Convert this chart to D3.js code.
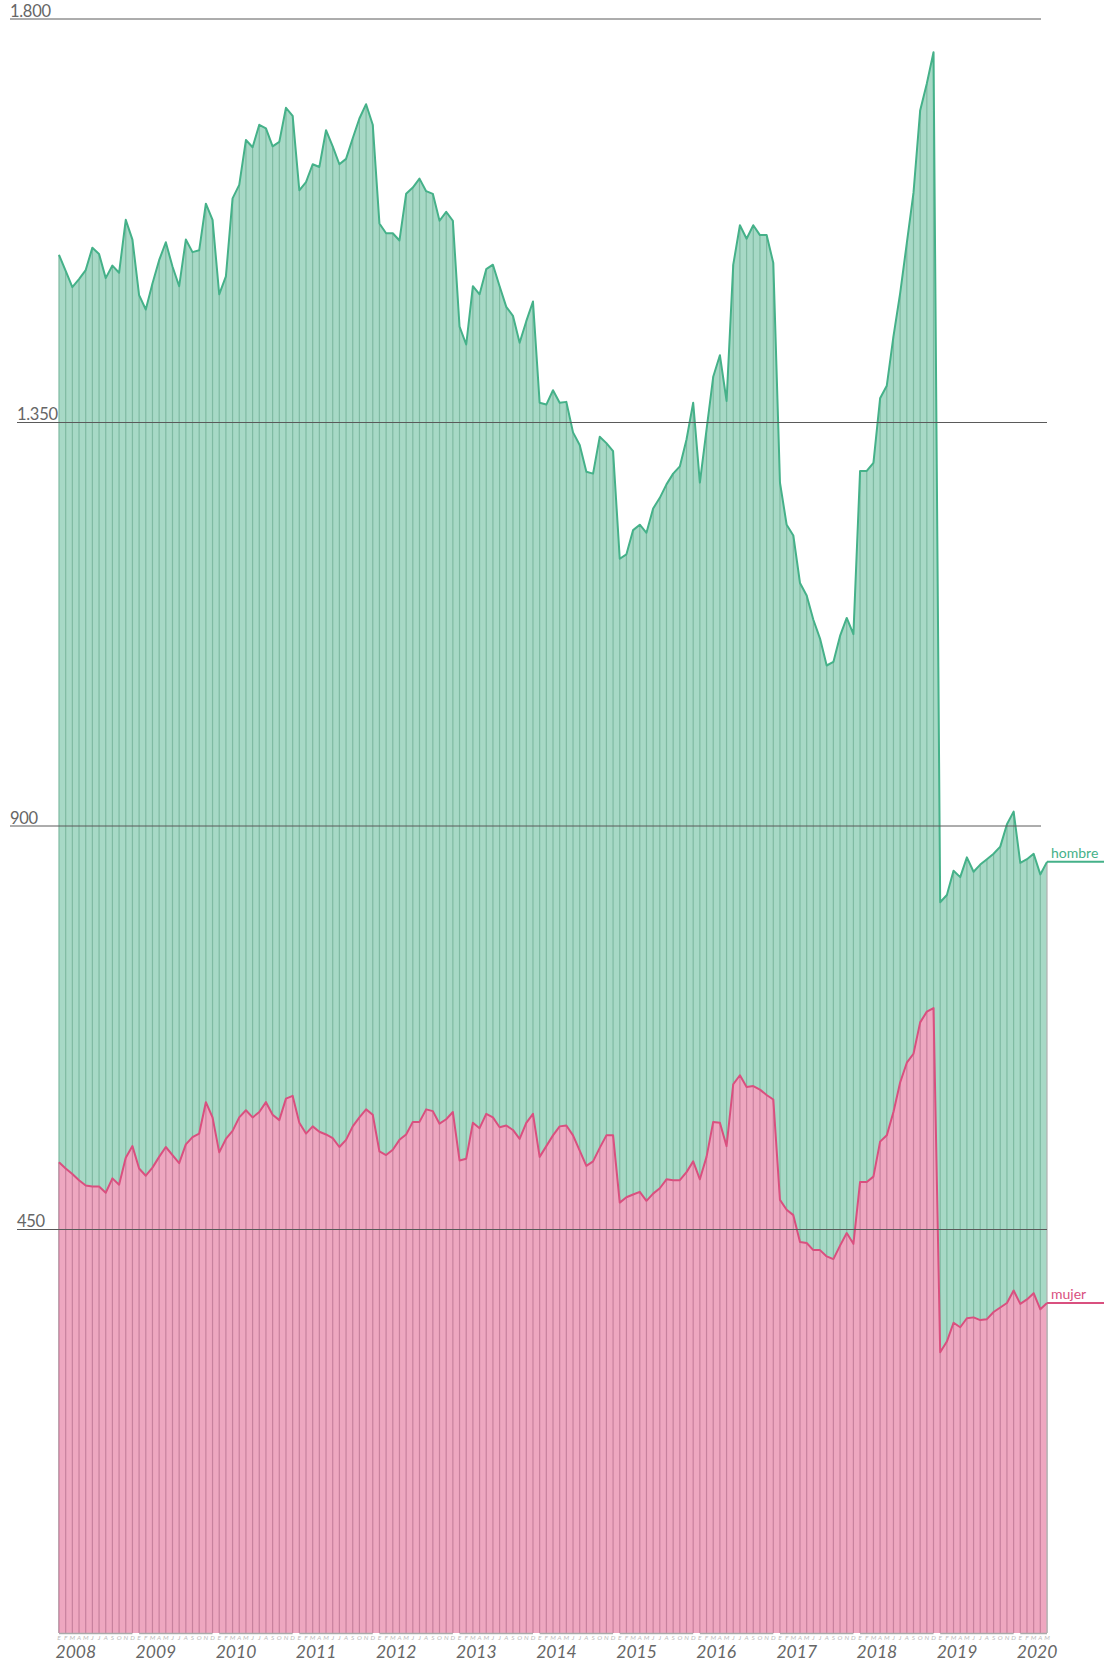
<!DOCTYPE html>
<html><head><meta charset="utf-8">
<script src="https://cdn.jsdelivr.net/npm/d3@7"></script>
<style>body{margin:0;background:#fff}svg{display:block}text{font-family:Lato,"Open Sans",sans-serif}</style>
</head><body>
<svg id="c" width="1104" height="1661"></svg>
<script>
const years = [2008,2009,2010,2011,2012,2013,2014,2015,2016,2017,2018,2019,2020];
const monthLetters = ["E","F","M","A","M","J","J","A","S","O","N","D"];
const yTicks = [1800,1350,900,450];
const yTickLabels = ["1.800","1.350","900","450"];
const hombre = [
1537,1519,1501,1510,1520,1545,1538,1511,1525,1517,1576,1554,
1492,1476,1505,1531,1551,1524,1502,1554,1540,1542,1594,1576,
1493,1513,1600,1615,1665,1657,1682,1678,1658,1663,1701,1692,
1609,1618,1638,1635,1676,1658,1638,1644,1667,1689,1705,1682,
1572,1561,1561,1553,1605,1612,1622,1608,1605,1575,1585,1575,
1457,1437,1502,1493,1521,1526,1502,1479,1469,1439,1463,1485,
1372,1370,1386,1372,1373,1339,1325,1295,1293,1334,1327,1318,
1198,1203,1230,1236,1227,1254,1266,1281,1293,1301,1331,1372,
1283,1342,1401,1425,1374,1526,1570,1555,1570,1559,1559,1528,
1283,1236,1224,1171,1157,1130,1109,1079,1083,1112,1132,1114,
1296,1296,1305,1377,1391,1446,1494,1550,1606,1698,1728,1763,
815,823,850,843,865,849,857,863,869,877,902,916,
859,863,869,846,860];
const mujer = [
525,518,512,505,499,498,498,491,507,500,530,543,
518,510,519,531,542,533,524,545,553,557,592,575,
536,551,560,575,583,575,581,592,578,572,596,599,
569,557,565,559,556,552,542,550,565,575,584,578,
537,533,539,550,556,570,570,584,582,568,573,581,
527,529,569,563,579,575,564,566,561,551,569,579,
531,543,555,565,566,555,538,521,526,541,555,555,
480,486,489,492,482,490,496,506,505,505,514,526,
506,531,570,569,543,612,622,609,610,606,600,595,
483,472,466,436,435,427,427,420,417,432,446,434,
503,503,509,548,555,581,614,636,646,681,693,697,
313,325,346,341,351,352,349,350,358,363,368,382,
367,372,379,361,368];
const seriesNames = ["hombre","mujer"];

const svg = d3.select("#c");
const n = hombre.length;
const x = d3.scaleLinear().domain([0, n-1]).range([59, 1047]);
const y = d3.scaleLinear().domain([0, 1800]).range([1633, 19]);

const series = [
  {name: seriesNames[0], vals: hombre, fill:"#a7d9c6", stroke:"#45b189", tick:"#7fbaa2"},
  {name: seriesNames[1], vals: mujer, fill:"#eea7c0", stroke:"#d9507f", tick:"#c7819d"}
];

series.forEach(s => {
  const g = svg.append("g");
  const area = d3.area().x((d,i)=>x(i)).y0(y(0)).y1(d=>y(d));
  g.append("path").datum(s.vals).attr("d", area).attr("fill", s.fill);
  g.selectAll("line.v").data(s.vals).join("line")
    .attr("x1",(d,i)=>x(i)).attr("x2",(d,i)=>x(i))
    .attr("y1",y(0)).attr("y2",d=>y(d))
    .attr("stroke", (d,i)=> i===n-1 ? "#b0b0b0" : s.tick).attr("stroke-width",1.2);
  const line = d3.line().x((d,i)=>x(i)).y(d=>y(d));
  g.append("path").datum(s.vals).attr("d", line).attr("fill","none")
    .attr("stroke", s.stroke).attr("stroke-width",2).attr("stroke-linejoin","round");
  const last = s.vals[n-1];
  g.append("line").attr("x1", x(n-1)).attr("x2", 1104).attr("y1", y(last)).attr("y2", y(last))
    .attr("stroke", s.stroke).attr("stroke-width",2);
  g.append("text").attr("x", x(n-1)+4).attr("y", y(last)-4)
    .attr("fill", s.stroke).attr("font-size", 14).text(s.name);
});

// gridlines
const grid = svg.append("g");
yTicks.forEach((t,i) => {
  const x0 = i % 2 === 0 ? 10 : 17;
  const x1 = i % 2 === 0 ? 1041 : 1047;
  grid.append("line").attr("x1", x0).attr("x2", x1).attr("y1", y(t)).attr("y2", y(t))
    .attr("stroke","#5a5a5a").attr("stroke-width",1);
  grid.append("text").attr("x", x0).attr("y", y(t)-2.5).attr("fill","#666")
    .attr("font-size",16.5).attr("letter-spacing","-0.3").text(yTickLabels[i]);
});

// x axis
const ax = svg.append("g");
years.forEach((yr, yi) => {
  const i0 = yi*12;
  const i1 = Math.min(i0+11, n-1);
  ax.append("line").attr("x1", x(i0)).attr("x2", x(i1)).attr("y1", 1633.5).attr("y2", 1633.5)
    .attr("stroke","#aaa").attr("stroke-width",1.5);
  for (let i=i0; i<=i1; i++) {
    ax.append("text").attr("x", x(i)).attr("y", 1639.5).attr("text-anchor","middle")
      .attr("font-size",6.5).attr("font-style","italic").attr("fill","#bbb").text(monthLetters[i-i0]);
  }
  ax.append("text").attr("x", x(i0)-3.5).attr("y", 1657.5).attr("font-size",17.5)
    .attr("font-style","italic").attr("fill","#666").text(yr);
});
</script>
</body></html>
